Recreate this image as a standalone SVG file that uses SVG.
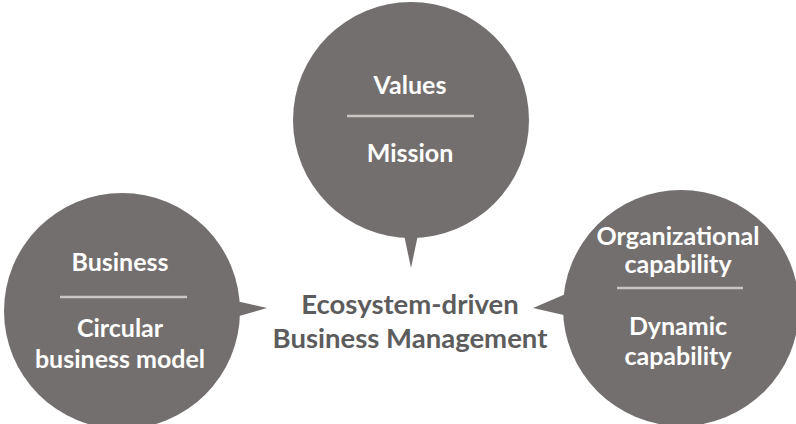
<svg xmlns="http://www.w3.org/2000/svg" width="796" height="424" viewBox="0 0 796 424">
<style>
.bub{fill:#736f6e}
.div{stroke:#c9c6c4;stroke-width:2.5}
.t{font-family:Lato,"Open Sans",sans-serif;font-weight:700;font-size:25px;fill:#ffffff;text-anchor:middle}
.c{font-family:Lato,"Open Sans",sans-serif;font-weight:700;font-size:27.5px;fill:#5c5c5c;text-anchor:middle}
</style>
<rect width="796" height="424" fill="#ffffff"/>
<g id="connectors"></g>
<g id="top">
<circle class="bub" cx="411" cy="120" r="118"/>
<polygon class="bub" points="403,230 419,230 411,268"/>
<line class="div" x1="347" y1="116" x2="474" y2="116"/>
<text class="t" x="410" y="94">Values</text>
<text class="t" x="410" y="162">Mission</text>
</g>
<g id="left">
<circle class="bub" cx="122" cy="311" r="118"/>
<polygon class="bub" points="232,300 232,318 267,308"/>
<line class="div" x1="60" y1="297" x2="187" y2="297"/>
<text class="t" x="120" y="271">Business</text>
<text class="t" x="120" y="337">Circular</text>
<text class="t" x="120" y="368">business model</text>
</g>
<g id="right">
<circle class="bub" cx="681" cy="308" r="118"/>
<polygon class="bub" points="568,293 568,316 533,308"/>
<line class="div" x1="617" y1="288" x2="743" y2="288"/>
<text class="t" x="678" y="245">Organizational</text>
<text class="t" x="678" y="273">capability</text>
<text class="t" x="678" y="335">Dynamic</text>
<text class="t" x="678" y="365">capability</text>
</g>
<g id="center">
<text class="c" x="410" y="314">Ecosystem-driven</text>
<text class="c" x="410" y="348">Business Management</text>
</g>
</svg>
